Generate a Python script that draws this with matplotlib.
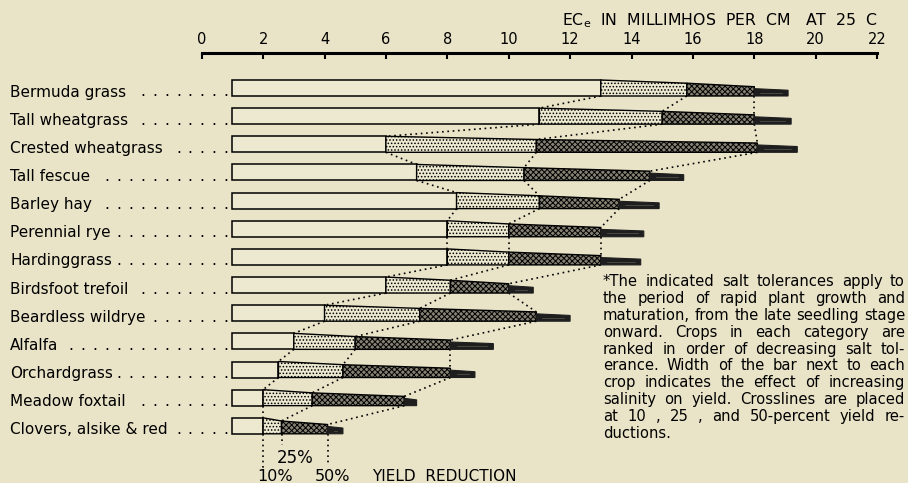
import matplotlib
matplotlib.use("Agg")
import matplotlib.pyplot as plt
from matplotlib.patches import Polygon
from matplotlib.transforms import Affine2D

# ---------------- data ----------------
crops = ["Bermuda grass", "Tall wheatgrass", "Crested wheatgrass", "Tall fescue",
         "Barley hay", "Perennial rye", "Hardinggrass", "Birdsfoot trefoil",
         "Beardless wildrye", "Alfalfa", "Orchardgrass", "Meadow foxtail",
         "Clovers, alsike & red"]
ec_origin = 1.0
ec_10 = [13.0, 11.0, 6.0, 7.0, 8.3, 8.0, 8.0, 6.0, 4.0, 3.0, 2.5, 2.0, 2.0]
ec_25 = [15.8, 15.0, 10.9, 10.5, 11.0, 10.0, 10.0, 8.1, 7.1, 5.0, 4.6, 3.6, 2.6]
ec_50 = [18.0, 18.0, 18.1, 14.6, 13.6, 13.0, 13.0, 10.0, 10.9, 8.1, 8.1, 6.6, 4.1]
ec_end = [19.1, 19.2, 19.4, 15.7, 14.9, 14.4, 14.3, 10.8, 12.0, 9.5, 8.9, 7.0, 4.6]
ticks = [0, 2, 4, 6, 8, 10, 12, 14, 16, 18, 20, 22]
title = "EC$_{\\mathrm{e}}$  IN  MILLIMHOS  PER  CM   AT  25  C"
note_lines = [
    "*The indicated salt tolerances apply to",
    "the period of rapid plant growth and",
    "maturation, from the late seedling stage",
    "onward. Crops in each category are",
    "ranked in order of decreasing salt tol-",
    "erance. Width of the bar next to each",
    "crop indicates the effect of increasing",
    "salinity on yield. Crosslines are placed",
    "at 10 , 25 , and 50-percent yield re-",
    "ductions.",
]

# ---------------- style / layout ----------------
W, Hpx = 908, 483
BG = "#E9E4C8"
plt.rcParams["font.family"] = ["DejaVu Sans"]
plt.rcParams["hatch.linewidth"] = 0.7

fig = plt.figure(figsize=(W / 100, Hpx / 100), dpi=100, facecolor=BG)
PX = Affine2D().scale(1 / W, -1 / Hpx).translate(0, 1) + fig.transFigure

x0_px, unit_px, axis_y = 201.7, 30.7, 53
ax = fig.add_axes([x0_px / W, 0, 22 * unit_px / W, (Hpx - axis_y) / Hpx])
ax.set_facecolor("none")
ax.set_xlim(0, 22)
ax.set_ylim(Hpx, axis_y)
for s in ["left", "right", "bottom"]:
    ax.spines[s].set_visible(False)
ax.spines["top"].set_linewidth(2.2)
ax.xaxis.tick_top()
ax.set_xticks(ticks)
ax.set_xticklabels([str(t) for t in ticks])
ax.tick_params(axis="x", top=True, bottom=False, direction="in", length=4,
               width=1.5, labelsize=10.5, pad=4)
ax.set_yticks([])

fig.text(878, 21, title, transform=PX, ha="right", va="center", fontsize=11.3)

row0_bottom, row_step, bar_h = 96.0, 28.15, 16.0
k25, k50, kb0, kb1 = 0.80, 0.58, 0.46, 0.36
bottoms = [row0_bottom + i * row_step for i in range(len(crops))]

line_kw = dict(color="black", lw=1.2, linestyle=(0, (1, 2.2)), zorder=1)

for i, name in enumerate(crops):
    b = bottoms[i]
    top = b - bar_h
    p10, p25, p50, pe = ec_10[i], ec_25[i], ec_50[i], ec_end[i]
    ax.add_patch(Polygon([(ec_origin, b), (ec_origin, top), (p10, top), (p10, b)],
                         closed=True, facecolor="#EDE9D1", edgecolor="black", lw=1.1, zorder=3))
    ax.add_patch(Polygon([(p10, b), (p10, top), (p25, b - bar_h * k25), (p25, b)],
                         closed=True, facecolor="#EDE9D1", edgecolor="black", lw=1.0,
                         hatch=".....", zorder=3))
    ax.add_patch(Polygon([(p25, b), (p25, b - bar_h * k25), (p50, b - bar_h * k50), (p50, b)],
                         closed=True, facecolor="#85817300"[:7], edgecolor="black", lw=1.0,
                         hatch="xxxxxx", zorder=3))
    ax.add_patch(Polygon([(p50, b), (p50, b - bar_h * kb0), (pe, b - bar_h * kb1), (pe, b)],
                         closed=True, facecolor="#1E1E1E", edgecolor="#1E1E1E", lw=0.8, zorder=3))
    ax.plot([p50 + 0.2, pe - 0.2], [b - bar_h * (kb0 + kb1) / 4] * 2,
            color="#5A5850", lw=0.5, zorder=4)

# crosslines between rows
for vals, k in [(ec_10, 1.0), (ec_25, k25), (ec_50, k50)]:
    for i in range(len(crops) - 1):
        ax.plot([vals[i], vals[i + 1]], [bottoms[i], bottoms[i + 1] - bar_h * k], **line_kw)

# drop lines to the legend labels
bl = bottoms[-1]
ax.plot([ec_10[-1]] * 2, [bl, 470], **line_kw)
ax.plot([ec_25[-1]] * 2, [bl, 445], **line_kw)
ax.plot([ec_50[-1]] * 2, [bl, 466], **line_kw)

fig.canvas.draw()
renderer = fig.canvas.get_renderer()

# crop labels with dot leaders
for i, name in enumerate(crops):
    yb = bottoms[i] + 0.5
    t = fig.text(10, yb, name, transform=PX, ha="left", va="baseline", fontsize=11)
    right = 10 + t.get_window_extent(renderer).width
    xd = 226.0
    while xd > right + 6:
        fig.text(xd, yb, ".", transform=PX, ha="center", va="baseline", fontsize=11)
        xd -= 11.9

# legend labels
fig.text(277, 463, "25%", transform=PX, ha="left", va="baseline", fontsize=12)
fig.text(257, 481, "10%", transform=PX, ha="left", va="baseline", fontsize=11.5)
fig.text(315, 481, "50%", transform=PX, ha="left", va="baseline", fontsize=11.5)
fig.text(372, 481, "YIELD  REDUCTION", transform=PX, ha="left", va="baseline", fontsize=11)

# justified footnote
nx0, nx1, ny0, nstep = 603.0, 905.0, 286.0, 16.9
for j, line in enumerate(note_lines):
    y = ny0 + j * nstep
    words = line.split()
    objs = []
    widths = []
    for w in words:
        t = fig.text(0, y, w, transform=PX, ha="left", va="baseline", fontsize=10.6)
        objs.append(t)
        widths.append(t.get_window_extent(renderer).width)
    if j == len(note_lines) - 1 or len(words) == 1:
        gap = 4.5
    else:
        gap = (nx1 - nx0 - sum(widths)) / (len(words) - 1)
    x = nx0
    for t, wd in zip(objs, widths):
        t.set_position((x, y))
        x += wd + gap

fig.savefig("out.png", dpi=100, facecolor=BG)
